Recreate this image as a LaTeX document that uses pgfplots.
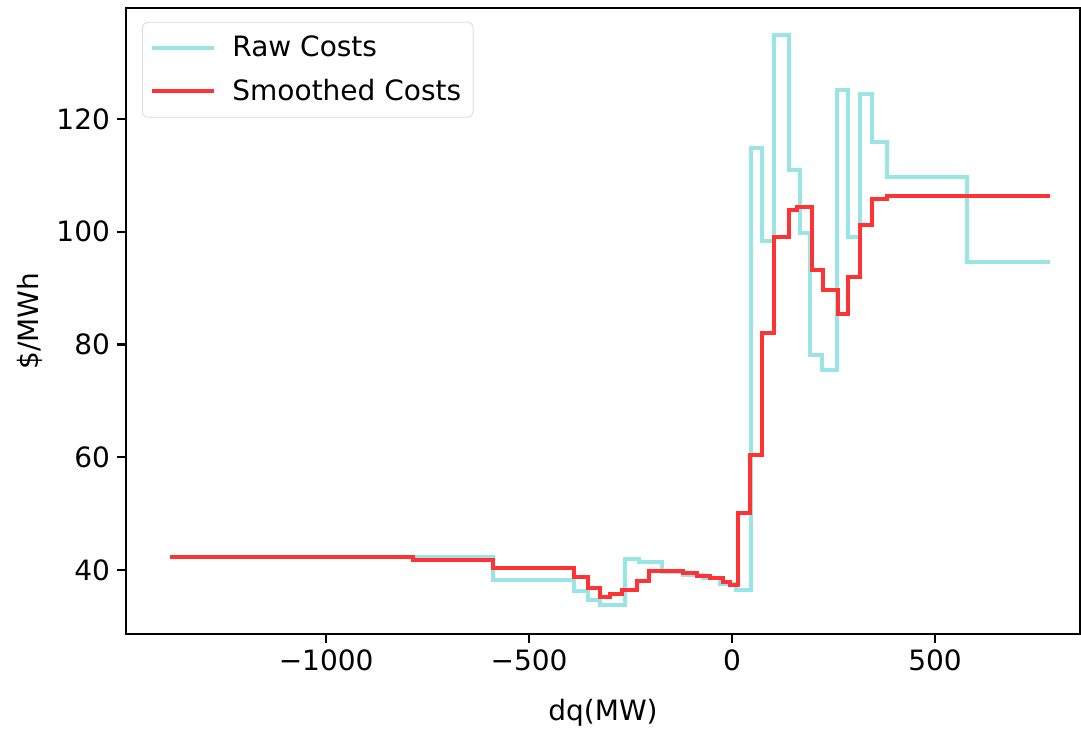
\documentclass[border=0pt]{standalone}
\usepackage{pgfplots}
\pgfplotsset{compat=1.18}
\usepackage{fontspec}
\setmainfont{DejaVu Sans}
\begin{document}
\begin{tikzpicture}
\definecolor{rawc}{rgb}{0.6,0.9,0.9}
\definecolor{smc}{rgb}{1,0.2,0.2}
\begin{axis}[
  scale only axis, width=477pt, height=313pt,
  xmin=-1493, xmax=857, ymin=28.65, ymax=139.7,
  xtick={-1000,-500,0,500}, xticklabels={−1000,−500,0,500},
  ytick={40,60,80,100,120},
  /pgf/number format/assume math mode=true,
  tick align=outside, tick pos=left, major tick length=4.5pt,
  axis line style={line width=1.1pt},
  every tick/.style={black, line width=1.1pt},
  tick label style={font=\fontsize{14}{16}\selectfont},
  label style={font=\fontsize{14}{16}\selectfont},
  xlabel={dq(MW)}, ylabel={\$/MWh},
  xlabel style={at={(axis description cs:0.5,-0.126)}, anchor=center},
  ylabel style={at={(axis description cs:-0.1006,0.5)}, anchor=center, rotate=0},
  legend cell align=left,
  legend style={at={(0.0168,0.978)}, anchor=north west, draw=black!15, rounded corners=3pt, fill=white,
    font=\fontsize{14}{16}\selectfont, row sep=5.5pt, inner xsep=4pt, inner ysep=5pt},
  legend image code/.code={\draw[#1] (0cm,0cm) -- (31pt,0cm); \path (37pt,0pt);},
]
\addplot[const plot, rawc, line width=2pt] coordinates {
(-1384,42.3) (-589,38.3) (-389,36.2) (-355,34.7) (-325,33.8) (-264,41.9) (-230,41.4)
(-172,39.6) (-120,39.1) (-72,38.5) (-30,37.6) (10,36.5) (47,114.8) (73,98.3)
(102,134.9) (139,110.9) (167,99.7) (192,78.1) (221,75.5) (258,125.1) (286,99.1)
(315,124.5) (344,116.0) (381,109.7) (578,94.7) (783,94.7)
};
\addlegendentry{Raw Costs}
\addplot[const plot, smc, line width=2pt] coordinates {
(-1384,42.3) (-786,41.8) (-589,40.3) (-389,38.8) (-355,36.8) (-325,35.3) (-300,35.8)
(-270,36.4) (-234,38.0) (-204,39.8) (-120,39.4) (-86,39.0) (-54,38.5) (-22,37.9)
(-5,37.4) (15,50.1) (44,60.4) (73,82.0) (102,99.1) (139,103.8) (160,104.4)
(196,93.2) (225,89.6) (262,85.5) (286,92.0) (315,101.2) (344,105.9) (381,106.3) (783,106.3)
};
\addlegendentry{Smoothed Costs}
\end{axis}
\pgfresetboundingbox
\path[use as bounding box] ([xshift=-63pt,yshift=-47.5pt]current axis.south west) rectangle ([xshift=0.5pt,yshift=4pt]current axis.north east);
\end{tikzpicture}
\end{document}
